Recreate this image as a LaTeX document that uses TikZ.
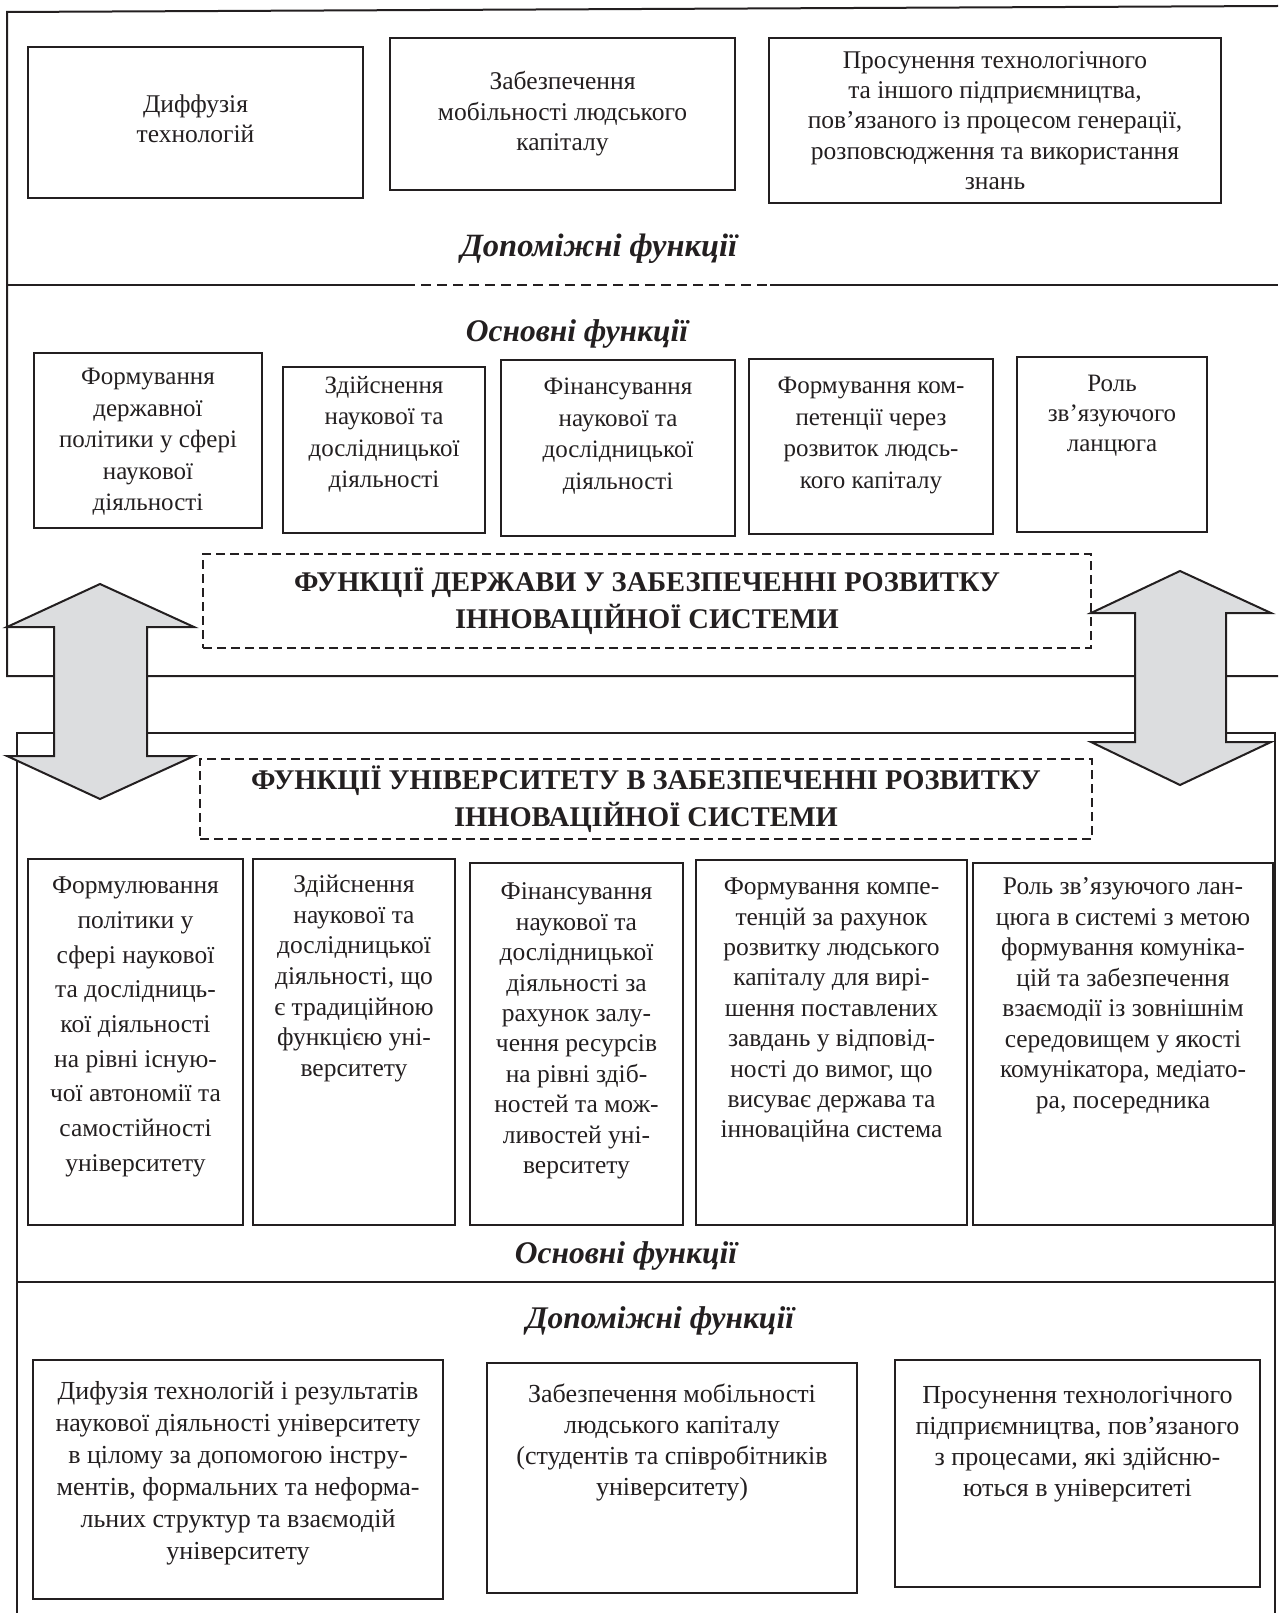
\documentclass[tikz,border=0pt]{standalone}
\usepackage{fontspec}
\setmainfont{Liberation Serif}
\usetikzlibrary{calc}
\definecolor{ink}{HTML}{231F20}
\definecolor{arrowgray}{HTML}{DCDDDF}
\tikzset{
  frameline/.style={draw=ink, line width=2pt},
  boxst/.style={draw=ink, line width=2pt, inner sep=0pt, outer sep=0pt, rectangle},
  txt/.style={inner sep=0pt, align=center, text=ink},
  dashbox/.style={draw=ink, line width=1.6pt, dash pattern=on 9pt off 5pt, inner sep=0pt, outer sep=0pt, align=center, text=ink, font=\bfseries\fontsize{28.5}{37}\selectfont},
  heading/.style={inner sep=0pt, text=ink, font=\bfseries\itshape\fontsize{31.5}{36}\selectfont},
  bigarrow/.style={draw=ink, line width=2pt, fill=arrowgray, line join=miter},
}
\newcommand\boxnode[5]{\node[boxst, anchor=north west, minimum width={(#4-#2)*1pt}, minimum height={(#5-#3)*1pt}] (#1) at (#2,#3) {};}
\newcommand\toptext[6]{\node[txt, anchor=north, font=\fontsize{#4}{#5}\selectfont] (#1) at (#2,{#3-0.4*#4}) {#6};}
\begin{document}
\begin{tikzpicture}[x=1pt,y=-1pt]
\useasboundingbox (0,0) rectangle (1278,1613);
% frames
\draw[frameline] (1278,6) -- (7,12) -- (7,676) -- (1278,676);
\draw[frameline, line width=2.5pt] (7,285) -- (405,285);
\draw[frameline, line width=2.5pt, dash pattern=on 10pt off 6pt] (405,285) -- (770,285);
\draw[frameline, line width=2.5pt] (770,285) -- (1278,285);
\draw[frameline] (17,1613) -- (17,733) -- (1275,733) -- (1275,1613);
\draw[frameline, line width=2.5pt] (17,1282) -- (1275,1282);

% top frame: auxiliary functions of the state
\boxnode{a1}{28}{47}{363}{198}
\node[txt, font=\fontsize{25.5}{30.4}\selectfont] (a1t) at ($(a1.center)+(0,-4)$) {Диффузія\\технологій};
\boxnode{a2}{390}{38}{735}{190}
\node[txt, font=\fontsize{25.5}{30.4}\selectfont] (a2t) at (a2.center) {Забезпечення\\мобільності людського\\капіталу};
\boxnode{a3}{769}{38}{1221}{203}
\node[txt, font=\fontsize{25.5}{30.4}\selectfont] (a3t) at (a3.center) {Просунення технологічного\\та іншого підприємництва,\\пов’язаного із процесом генерації,\\розповсюдження та використання\\знань};
\node[heading, font=\bfseries\itshape\fontsize{32.5}{36}\selectfont] (aux1) at (599,249) {Допоміжні функції};

% second frame: main functions of the state
\node[heading] (main1) at (577,334) {Основні функції};
\boxnode{b1}{34}{353}{262}{528}
\toptext{b1t}{148}{378}{25}{31.5}{Формування\\державної\\політики у сфері\\наукової\\діяльності}
\boxnode{b2}{283}{367}{485}{533}
\toptext{b2t}{384}{386}{25}{31.5}{Здійснення\\наукової та\\дослідницької\\діяльності}
\boxnode{b3}{501}{360}{735}{536}
\toptext{b3t}{618}{388}{25}{31.5}{Фінансування\\наукової та\\дослідницької\\діяльності}
\boxnode{b4}{749}{359}{993}{534}
\toptext{b4t}{871}{387}{25}{31.5}{Формування ком-\\петенції через\\розвиток людсь-\\кого капіталу}
\boxnode{b5}{1017}{357}{1207}{532}
\toptext{b5t}{1112}{385}{25}{30}{Роль\\зв’язуючого\\ланцюга}

\node[dashbox, minimum width=888pt, minimum height=94pt] (st) at (647,601) {ФУНКЦІЇ ДЕРЖАВИ У ЗАБЕЗПЕЧЕННІ РОЗВИТКУ\\ІННОВАЦІЙНОЇ СИСТЕМИ};
\node[dashbox, minimum width=892pt, minimum height=80pt] (un) at (646,799) {ФУНКЦІЇ УНІВЕРСИТЕТУ В ЗАБЕЗПЕЧЕННІ РОЗВИТКУ\\ІННОВАЦІЙНОЇ СИСТЕМИ};

% third frame: main functions of the university
\boxnode{c1}{28}{859}{243}{1225}
\toptext{c1t}{135.5}{887}{25.5}{34.7}{Формулювання\\політики у\\сфері наукової\\та дослідниць-\\кої діяльності\\на рівні існую-\\чої автономії та\\самостійності\\університету}
\boxnode{c2}{253}{859}{455}{1225}
\toptext{c2t}{354}{885}{25.5}{30.7}{Здійснення\\наукової та\\дослідницької\\діяльності, що\\є традиційною\\функцією уні-\\верситету}
\boxnode{c3}{470}{863}{683}{1225}
\toptext{c3t}{576.5}{893}{25.5}{30.4}{Фінансування\\наукової та\\дослідницької\\діяльності за\\рахунок залу-\\чення ресурсів\\на рівні здіб-\\ностей та мож-\\ливостей уні-\\верситету}
\boxnode{c4}{696}{860}{967}{1225}
\toptext{c4t}{831.5}{888}{25.5}{30.4}{Формування компе-\\тенцій за рахунок\\розвитку людського\\капіталу для вирі-\\шення поставлених\\завдань у відповід-\\ності до вимог, що\\висуває держава та\\інноваційна система}
\boxnode{c5}{973}{863}{1273}{1225}
\toptext{c5t}{1123}{888}{25.5}{30.5}{Роль зв’язуючого лан-\\цюга в системі з метою\\формування комуніка-\\цій та забезпечення\\взаємодії із зовнішнім\\середовищем у якості\\комунікатора, медіато-\\ра, посередника}
\node[heading] (main2) at (626,1256) {Основні функції};

% bottom: auxiliary functions of the university
\node[heading] (aux2) at (660,1321) {Допоміжні функції};
\boxnode{d1}{33}{1360}{443}{1599}
\toptext{d1t}{238}{1392}{26}{32}{Дифузія технологій і результатів\\наукової діяльності університету\\в цілому за допомогою інстру-\\ментів, формальних та неформа-\\льних структур та взаємодій\\університету}
\boxnode{d2}{487}{1363}{857}{1593}
\toptext{d2t}{672}{1394}{26}{31}{Забезпечення мобільності\\людського капіталу\\(студентів та співробітників\\університету)}
\boxnode{d3}{895}{1360}{1260}{1587}
\toptext{d3t}{1077.5}{1396}{26}{31}{Просунення технологічного\\підприємництва, пов’язаного\\з процесами, які здійсню-\\ються в університеті}

% double block arrows
\draw[bigarrow] (100,584) -- (194,627) -- (147,627) -- (147,756) -- (194,756) -- (100,799) -- (7,756) -- (54,756) -- (54,627) -- (7,627) -- cycle;
\draw[bigarrow] (1180,571) -- (1271,613) -- (1226,613) -- (1226,742) -- (1271,742) -- (1180,785) -- (1091,742) -- (1135,742) -- (1135,613) -- (1091,613) -- cycle;
\end{tikzpicture}
\end{document}
